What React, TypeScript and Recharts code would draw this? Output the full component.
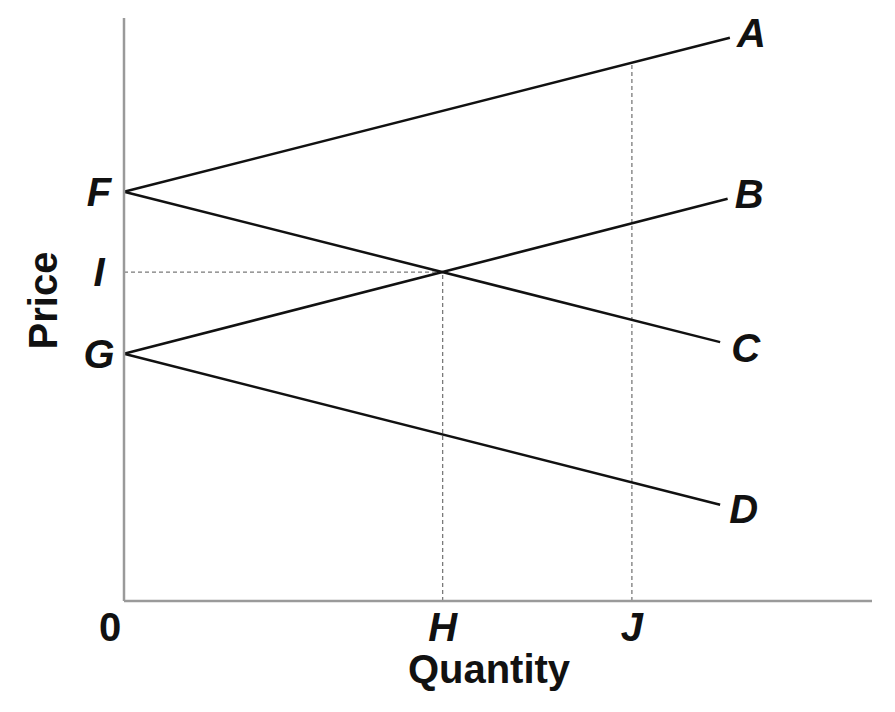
import { Label, Line, LineChart, ReferenceLine, XAxis, YAxis } from 'recharts'

// quantity axis marks (0..100 scale)
const quantityTicks = [0, 42.6, 67.9]
const quantityLabels = ['0', 'H', 'J']

// price axis marks (0..100 scale)
const priceTicks = [42.4, 56.4, 70.2]
const priceLabels = ['G', 'I', 'F']

// the four curves, from the price axis out to their end labels
const lineA = [{ q: 0, p: 70.2 }, { q: 81.0, p: 96.6 }]
const lineB = [{ q: 0, p: 42.4 }, { q: 80.7, p: 69.0 }]
const lineC = [{ q: 0, p: 70.2 }, { q: 79.7, p: 44.4 }]
const lineD = [{ q: 0, p: 42.4 }, { q: 79.7, p: 16.5 }]

// guide values
const qH = 42.6
const pI = 56.4
const qJ = 67.9
const pAtJ = 92.3

const FONT = '"Liberation Sans", Arial, sans-serif'
const AXIS = '#9a9a9a'
const GUIDE = '#7a7a7a'

const textStyle = { fontFamily: FONT, fontWeight: 700, fontSize: 40, fill: '#111' }

const endLabel = (name: string, dx: number, dy: number) => (props: any) => {
  if (props.index !== 1) return null
  return (
    <text x={props.x + dx} y={props.y + dy} textAnchor="start" fontStyle="italic" style={textStyle}>
      {name}
    </text>
  )
}

function QuantityTick(props: any) {
  const { x, y, payload } = props
  const i = quantityTicks.indexOf(payload.value)
  const label = quantityLabels[i]
  const italic = label !== '0'
  return (
    <text
      x={x + (italic ? 0 : -14)}
      y={y + 40}
      textAnchor="middle"
      fontStyle={italic ? 'italic' : 'normal'}
      style={textStyle}
    >
      {label}
    </text>
  )
}

function PriceTick(props: any) {
  const { x, y, payload } = props
  const i = priceTicks.indexOf(payload.value)
  return (
    <text x={x - 25} y={y + 14} textAnchor="middle" fontStyle="italic" style={textStyle}>
      {priceLabels[i]}
    </text>
  )
}

export default function App() {
  return (
    <div style={{ position: 'absolute', left: 0, top: 0, background: '#fff' }}>
      <LineChart width={895} height={712} margin={{ top: 18, right: 23, left: 94, bottom: 81 }}>
        <XAxis
          type="number"
          dataKey="q"
          domain={[0, 100]}
          ticks={quantityTicks}
          interval={0}
          tick={<QuantityTick />}
          tickLine={false}
          tickSize={0}
          tickMargin={0}
          height={30}
          axisLine={{ stroke: AXIS, strokeWidth: 2.5 }}
        >
          <Label
            content={(p: any) => (
              <text
                x={p.viewBox.x + p.viewBox.width / 2 - 9}
                y={p.viewBox.y + 82}
                textAnchor="middle"
                style={textStyle}
              >
                Quantity
              </text>
            )}
          />
        </XAxis>
        <YAxis
          type="number"
          dataKey="p"
          domain={[0, 100]}
          ticks={priceTicks}
          interval={0}
          tick={<PriceTick />}
          tickLine={false}
          tickSize={0}
          tickMargin={0}
          width={30}
          axisLine={{ stroke: AXIS, strokeWidth: 2.5 }}
        >
          <Label
            content={(p: any) => {
              const cx = p.viewBox.x + p.viewBox.width - 67
              const cy = p.viewBox.y + p.viewBox.height / 2 - 9
              return (
                <text
                  transform={`translate(${cx}, ${cy}) rotate(-90)`}
                  textAnchor="middle"
                  style={textStyle}
                >
                  Price
                </text>
              )
            }}
          />
        </YAxis>

        <ReferenceLine segment={[{ x: 0, y: pI }, { x: qH, y: pI }]} stroke={GUIDE} strokeWidth={1.3} strokeDasharray="4 3" />
        <ReferenceLine segment={[{ x: qH, y: 0 }, { x: qH, y: pI }]} stroke={GUIDE} strokeWidth={1.3} strokeDasharray="4 3" />
        <ReferenceLine segment={[{ x: qJ, y: 0 }, { x: qJ, y: pAtJ }]} stroke={GUIDE} strokeWidth={1.3} strokeDasharray="4 3" />

        <Line data={lineA} dataKey="p" stroke="#111" strokeWidth={2.5} dot={false} activeDot={false} isAnimationActive={false} label={endLabel('A', 7, 9)} />
        <Line data={lineB} dataKey="p" stroke="#111" strokeWidth={2.5} dot={false} activeDot={false} isAnimationActive={false} label={endLabel('B', 7, 9)} />
        <Line data={lineC} dataKey="p" stroke="#111" strokeWidth={2.5} dot={false} activeDot={false} isAnimationActive={false} label={endLabel('C', 11, 20)} />
        <Line data={lineD} dataKey="p" stroke="#111" strokeWidth={2.5} dot={false} activeDot={false} isAnimationActive={false} label={endLabel('D', 9, 18)} />
      </LineChart>
    </div>
  )
}
